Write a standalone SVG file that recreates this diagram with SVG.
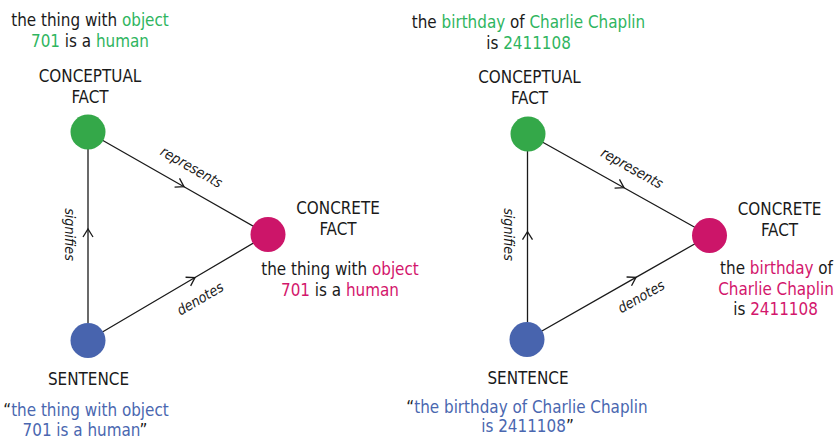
<svg xmlns="http://www.w3.org/2000/svg" width="835" height="436" viewBox="0 0 835 436">
  <style>
    text { font-family: "DejaVu Sans Condensed", "DejaVu Sans", sans-serif; font-size: 16.9px; fill: #1a1a1a; text-anchor: middle; }
    .edge-label { font-size: 14.2px; font-style: italic; }
    .g { fill: #2fb560; }
    .m { fill: #d3166c; }
    .b { fill: #4a67b0; }
    .edge { fill: none; stroke: #1a1a1a; stroke-width: 1.3; marker-mid: url(#chevron); }
  </style>
  <defs>
    <marker id="chevron" markerUnits="userSpaceOnUse" markerWidth="20" markerHeight="20" viewBox="-10 -10 20 20" refX="0" refY="0" orient="auto">
      <path d="M-8,-5 L0,0 L-8,5" fill="none" stroke="#1a1a1a" stroke-width="1.3"/>
    </marker>
  </defs>
  <rect width="835" height="436" fill="#ffffff"/>

  <!-- connectors -->
  <g id="connectors">
    <path class="edge" d="M88,323 L88,229 L88,149"/>
    <path class="edge" d="M88,132 L184,186.7 L268,234.5"/>
    <path class="edge" d="M88,340.5 L195,277.5 L268,234.5"/>
    <path class="edge" d="M527.5,322 L527.5,231.7 L527.5,151"/>
    <path class="edge" d="M528,134 L624,187.7 L709.5,235.5"/>
    <path class="edge" d="M527,339.5 L636,277.4 L709.5,235.5"/>
  </g>

  <!-- edge labels -->
  <g id="edge-labels">
    <text class="edge-label" transform="translate(191.5,167) rotate(29.7)" y="5">represents</text>
    <text class="edge-label" transform="translate(200,298.5) rotate(-30.5)" y="5">denotes</text>
    <text class="edge-label" transform="translate(70,234.5) rotate(90)" y="5">signifies</text>
    <text class="edge-label" transform="translate(632,168) rotate(29.2)" y="5">represents</text>
    <text class="edge-label" transform="translate(641,296.5) rotate(-29.7)" y="5">denotes</text>
    <text class="edge-label" transform="translate(509,234.5) rotate(90)" y="5">signifies</text>
  </g>

  <!-- left triangle -->
  <g id="left-conceptual">
    <circle cx="88" cy="132" r="17.5" fill="#34a849"/>
    <text x="90" y="82">CONCEPTUAL</text>
    <text x="90" y="102.5">FACT</text>
    <text x="90" y="26">the thing with <tspan class="g">object</tspan></text>
    <text x="90" y="47"><tspan class="g">701</tspan> is a <tspan class="g">human</tspan></text>
  </g>
  <g id="left-concrete">
    <circle cx="268" cy="234.5" r="17.5" fill="#cc1569"/>
    <text x="338" y="214.3">CONCRETE</text>
    <text x="338" y="235">FACT</text>
    <text x="340" y="275">the thing with <tspan class="m">object</tspan></text>
    <text x="340" y="296"><tspan class="m">701</tspan> is a <tspan class="m">human</tspan></text>
  </g>
  <g id="left-sentence">
    <circle cx="88" cy="340.5" r="17.5" fill="#4864ae"/>
    <text x="88.5" y="385">SENTENCE</text>
    <text x="86" y="416">“<tspan class="b">the thing with object</tspan></text>
    <text x="85" y="435.5"><tspan class="b">701 is a human</tspan>”</text>
  </g>

  <!-- right triangle -->
  <g id="right-conceptual">
    <circle cx="528" cy="134" r="17.5" fill="#34a849"/>
    <text x="529.5" y="83.3">CONCEPTUAL</text>
    <text x="529.5" y="104.3">FACT</text>
    <text x="528.5" y="28.3">the <tspan class="g">birthday</tspan> of <tspan class="g">Charlie Chaplin</tspan></text>
    <text x="528.5" y="49">is <tspan class="g">2411108</tspan></text>
  </g>
  <g id="right-concrete">
    <circle cx="709.5" cy="235.5" r="17.5" fill="#cc1569"/>
    <text x="779.5" y="215">CONCRETE</text>
    <text x="779.5" y="235.7">FACT</text>
    <text x="776.5" y="274">the <tspan class="m">birthday</tspan> of</text>
    <text x="776" y="294.5"><tspan class="m">Charlie Chaplin</tspan></text>
    <text x="775.5" y="315">is <tspan class="m">2411108</tspan></text>
  </g>
  <g id="right-sentence">
    <circle cx="527" cy="339.5" r="17.5" fill="#4864ae"/>
    <text x="528" y="384">SENTENCE</text>
    <text x="527" y="413.3">“<tspan class="b">the birthday of Charlie Chaplin</tspan></text>
    <text x="527.5" y="432.3"><tspan class="b">is 2411108</tspan>”</text>
  </g>
</svg>
